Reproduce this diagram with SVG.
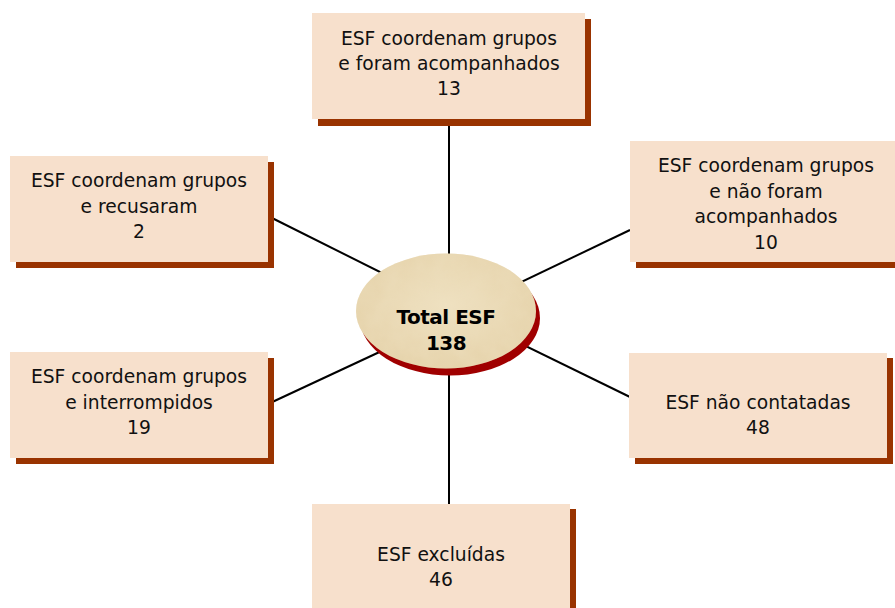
<svg xmlns="http://www.w3.org/2000/svg" width="895" height="608" viewBox="0 0 895 608">
  <defs>
    <style>
      .box { fill: #F7E0CC; }
      .shadow { fill: #993300; }
      .lbl { font-family: "DejaVu Sans", Verdana, sans-serif; font-size: 18.7px; fill: #111111; text-anchor: middle; }
      .title { font-family: "DejaVu Sans", Verdana, sans-serif; font-size: 20px; font-weight: bold; letter-spacing: -0.5px; fill: #000000; text-anchor: middle; }
      .conn { stroke: #000000; stroke-width: 2; fill: none; }
    </style>
    <radialGradient id="eg" cx="0.5" cy="0.45" r="0.6">
      <stop offset="0" stop-color="#EFE1C1"/>
      <stop offset="1" stop-color="#E4D0A6"/>
    </radialGradient>
    <filter id="tex" x="0" y="0" width="1" height="1">
      <feTurbulence type="fractalNoise" baseFrequency="0.06" numOctaves="3" seed="4" result="n"/>
      <feColorMatrix in="n" type="matrix" values="0 0 0 0 0.85  0 0 0 0 0.74  0 0 0 0 0.52  0 0 0 0.5 0" result="c"/>
      <feComposite in="c" in2="SourceGraphic" operator="in"/>
    </filter>
  </defs>

  <g id="connectors">
    <line class="conn" x1="449" y1="119" x2="449" y2="300"/>
    <line class="conn" x1="449" y1="320" x2="449" y2="504"/>
    <line class="conn" x1="268" y1="216" x2="446" y2="305"/>
    <line class="conn" x1="630" y1="230" x2="446" y2="318"/>
    <line class="conn" x1="268" y1="404" x2="446" y2="321"/>
    <line class="conn" x1="446" y1="307" x2="630" y2="397"/>
  </g>

  <g id="center">
    <ellipse cx="450" cy="318" rx="90" ry="57.5" fill="#A00000"/>
    <ellipse cx="446" cy="311" rx="90" ry="57.5" fill="url(#eg)"/>
    <ellipse cx="446" cy="311" rx="90" ry="57.5" fill="#000" filter="url(#tex)"/>
    <text class="title" x="446" y="324">Total ESF</text>
    <text class="title" x="446" y="350">138</text>
  </g>

  <g id="box-top">
    <rect class="shadow" x="318" y="19" width="273" height="107"/>
    <rect class="box" x="312" y="13" width="273" height="106"/>
    <text class="lbl" x="449" y="45">ESF coordenam grupos</text>
    <text class="lbl" x="449" y="70">e foram acompanhados</text>
    <text class="lbl" x="449" y="95">13</text>
  </g>

  <g id="box-left-top">
    <rect class="shadow" x="16" y="162" width="258" height="106"/>
    <rect class="box" x="10" y="156" width="258" height="106"/>
    <text class="lbl" x="139" y="187">ESF coordenam grupos</text>
    <text class="lbl" x="139" y="212.5">e recusaram</text>
    <text class="lbl" x="139" y="238">2</text>
  </g>

  <g id="box-right-top">
    <rect class="shadow" x="636" y="147" width="272" height="121"/>
    <rect class="box" x="630" y="141" width="272" height="121"/>
    <text class="lbl" x="766" y="171.5">ESF coordenam grupos</text>
    <text class="lbl" x="766" y="197.5">e não foram</text>
    <text class="lbl" x="766" y="223">acompanhados</text>
    <text class="lbl" x="766" y="248.5">10</text>
  </g>

  <g id="box-left-bottom">
    <rect class="shadow" x="16" y="358" width="258" height="106"/>
    <rect class="box" x="10" y="352" width="258" height="106"/>
    <text class="lbl" x="139" y="383">ESF coordenam grupos</text>
    <text class="lbl" x="139" y="408.5">e interrompidos</text>
    <text class="lbl" x="139" y="434">19</text>
  </g>

  <g id="box-right-bottom">
    <rect class="shadow" x="635" y="358" width="258" height="106"/>
    <rect class="box" x="629" y="353" width="258" height="105"/>
    <text class="lbl" x="758" y="409">ESF não contatadas</text>
    <text class="lbl" x="758" y="434">48</text>
  </g>

  <g id="box-bottom">
    <rect class="shadow" x="318" y="509" width="258" height="110"/>
    <rect class="box" x="312" y="504" width="258" height="110"/>
    <text class="lbl" x="441" y="561">ESF excluídas</text>
    <text class="lbl" x="441" y="586">46</text>
  </g>
</svg>
